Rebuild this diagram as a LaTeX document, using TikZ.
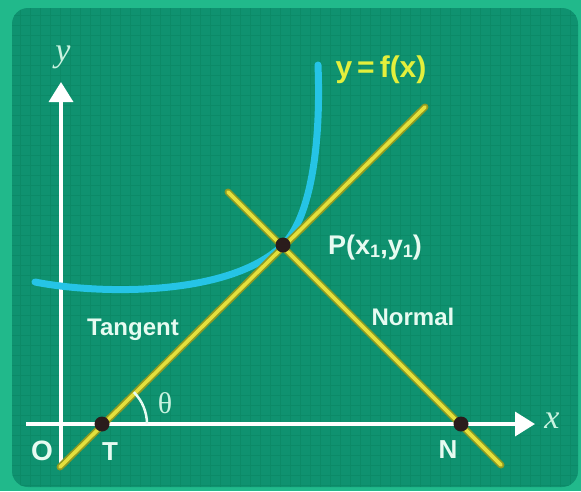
\documentclass[tikz,border=0pt]{standalone}
\usepackage{fontspec}
\setmainfont{Liberation Sans}
\newfontfamily\serifletter{Liberation Serif}
\usetikzlibrary{arrows.meta}
\definecolor{outergreen}{HTML}{21B98B}
\definecolor{panelgreen}{HTML}{0F9270}
\definecolor{gridgreen}{HTML}{0C8A67}
\definecolor{curvecyan}{HTML}{25C4E6}
\definecolor{lineyellow}{HTML}{E4E03C}
\definecolor{lineolive}{HTML}{8E9A22}
\definecolor{dotdark}{HTML}{2A1C1C}
\definecolor{labelmint}{HTML}{E6FBF1}
\definecolor{axismint}{HTML}{C9F3E0}
\definecolor{labelyellow}{HTML}{E3EF3C}
\newcommand{\lowsub}[1]{\raisebox{-3pt}{\fontsize{18}{20}\selectfont #1}}
\begin{document}
\begin{tikzpicture}[x=1pt,y=-1pt,>=Triangle,
 gridline/.style={draw=gridgreen,line width=0.5pt},
 axis/.style={draw=white,line width=3.5pt,-{Triangle[length=20pt,width=24pt]}},
 fcurve/.style={draw=curvecyan,line width=7pt,line cap=round},
 sline/.style={draw=lineolive,line width=7pt,line cap=round,
  postaction={draw=lineyellow,line width=3.6pt}},
 dot/.style={fill=dotdark},
 lbl/.style={text=labelmint,font=\fontsize{26}{30}\selectfont\bfseries,inner sep=0pt},
 tag/.style={text=labelmint,font=\fontsize{24}{28}\selectfont\bfseries,inner sep=0pt},
 axlbl/.style={text=axismint,font=\fontsize{34}{38}\serifletter\itshape,inner sep=0pt}]
 \fill[outergreen] (0,0) rectangle (581,491);
 \fill[panelgreen,rounded corners=16pt] (12,8) rectangle (578,487);
 \begin{scope}
  \clip[rounded corners=16pt] (12,8) rectangle (578,487);
  \foreach \gx in {20,30,...,570} \draw[gridline] (\gx,8) -- (\gx,487);
  \foreach \gy in {15,25,...,485} \draw[gridline] (12,\gy) -- (578,\gy);
 \end{scope}
 \coordinate (yB) at (61,468);
 \coordinate (yTip) at (61,82);
 \coordinate (xS) at (26,424);
 \coordinate (xTip) at (535,424);
 \coordinate (T) at (102,424);
 \coordinate (P) at (283,245);
 \coordinate (N) at (461,424);
 \coordinate (tanS) at (60,467);
 \coordinate (tanE) at (425,107);
 \coordinate (norS) at (228,192);
 \coordinate (norE) at (501,465);
 \coordinate (fL) at (35,282);
 \coordinate (fT) at (318,65);
 \draw[axis] (yB) -- (yTip);
 \draw[axis] (xS) -- (xTip);
 \draw[fcurve] (fL) .. controls (95,294) and (228,298) .. (P)
  .. controls (312,216) and (321,140) .. (fT);
 \draw[sline] (tanS) -- (tanE);
 \draw[sline] (norS) -- (norE);
 \draw[draw=labelmint,line width=2.5pt] ([xshift=45pt]T) arc[start angle=0,end angle=-45,radius=45];
 \fill[dot] (T) circle[radius=7.5];
 \fill[dot] (P) circle[radius=7.5];
 \fill[dot] (N) circle[radius=7.5];
 \node[axlbl] (ylbl) at (63,57) {y};
 \node[axlbl] (xlbl) at (552,421) {x};
 \node[axlbl,font=\fontsize{30}{32}\serifletter] (theta) at (165,403) {θ};
 \node[lbl,font=\fontsize{28}{30}\selectfont\bfseries] (Olbl) at (42,451) {O};
 \node[lbl] (Tlbl) at (110,452) {T};
 \node[lbl] (Nlbl) at (448,450) {N};
 \node[lbl,text=labelyellow,font=\fontsize{30}{34}\selectfont\bfseries] (flbl) at (381,70) {y\,=\,f(x)};
 \node[lbl,font=\fontsize{27}{30}\selectfont\bfseries] (Plbl) at (375,248) {P(x\lowsub{1},y\lowsub{1})};
 \node[tag] (tanlbl) at (133,330) {Tangent};
 \node[tag] (norlbl) at (413,317) {Normal};
\end{tikzpicture}
\end{document}
